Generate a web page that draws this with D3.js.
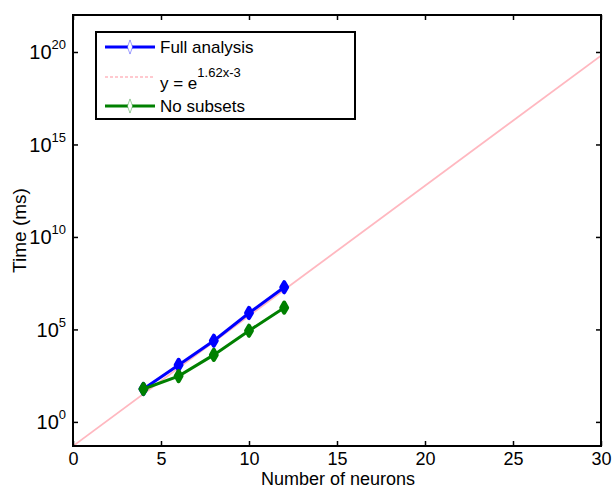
<!DOCTYPE html>
<html>
<head>
<meta charset="utf-8">
<script src="https://cdn.jsdelivr.net/npm/d3@7"></script>
<style>
  body { margin: 0; background: #fff; }
  text { font-family: "Liberation Sans", Arial, sans-serif; fill: #000; }
</style>
</head>
<body>
<svg id="chart"></svg>
<script>
// data
const neurons = [4, 6, 8, 10, 12];
const fullAnalysis = [60, 1200, 24500, 776000, 1.9e7];
const noSubsets = [60, 300, 4200, 85000, 1.5e6];
const fitX = [0, 30];
const xTicks = [0, 5, 10, 15, 20, 25, 30];
const yTickExp = [0, 5, 10, 15, 20];
const legendLabels = ["Full analysis", "y = e", "No subsets"];

const totalWidth = 614;
const totalHeight = 490;
const margin = { top: 15, right: 13, bottom: 44, left: 73 };
const graphWidth = totalWidth - margin.left - margin.right;
const graphHeight = totalHeight - margin.top - margin.bottom;

const fit = (x) => Math.exp(1.62 * x - 3);

const svg = d3.select("#chart").attr("width", totalWidth).attr("height", totalHeight);
const g = svg.append("g").attr("transform", `translate(${margin.left},${margin.top})`);

const xScale = d3.scaleLinear().domain([0, 30]).range([0, graphWidth]);
const yScale = d3.scaleLog().domain([Math.exp(-3), 1e22]).range([graphHeight, 0]);

// clip for the fit line
g.append("defs").append("clipPath").attr("id", "plotClip")
  .append("rect").attr("width", graphWidth).attr("height", graphHeight);

// fitted line
g.append("path")
  .attr("clip-path", "url(#plotClip)")
  .attr("d", d3.line().x((d) => xScale(d)).y((d) => yScale(fit(d)))(fitX))
  .attr("fill", "none")
  .attr("stroke", "#ffb8c0")
  .attr("stroke-width", 1.8);

const diamond = d3.symbol().type(d3.symbolDiamond).size(30);

function drawSeries(values, color) {
  const pts = neurons.map((x, i) => [x, values[i]]);
  g.append("path")
    .attr("d", d3.line().x((d) => xScale(d[0])).y((d) => yScale(d[1]))(pts))
    .attr("fill", "none")
    .attr("stroke", color)
    .attr("stroke-width", 3);
  g.selectAll(null).data(pts).enter().append("path")
    .attr("d", diamond)
    .attr("transform", (d) => `translate(${xScale(d[0])},${yScale(d[1])})`)
    .attr("fill", color)
    .attr("stroke", color)
    .attr("stroke-width", 4)
    .attr("stroke-linejoin", "round");
}
drawSeries(fullAnalysis, "#0000ff");
drawSeries(noSubsets, "#008000");

// axes: ticks inside on all sides
const yTickVals = yTickExp.map((e) => Math.pow(10, e));
const axisStyle = (sel) => {
  sel.select(".domain").remove();
  sel.selectAll(".tick line").attr("stroke", "#000").attr("stroke-width", 1.5);
};

g.append("g").attr("transform", `translate(0,${graphHeight})`)
  .call(d3.axisBottom(xScale).tickValues(xTicks).tickSize(-5).tickPadding(6).tickFormat(d3.format("d")))
  .call(axisStyle)
  .call((s) => s.selectAll("text").attr("font-size", 18).attr("font-family", "Liberation Sans, Arial, sans-serif"));

g.append("g")
  .call(d3.axisTop(xScale).tickValues(xTicks).tickSize(-5).tickFormat(""))
  .call(axisStyle);

const yAxis = g.append("g")
  .call(d3.axisLeft(yScale).tickValues(yTickVals).tickSize(-5).tickFormat(""))
  .call(axisStyle);
yAxis.selectAll(".tick").each(function (d, i) {
  const t = d3.select(this).append("text")
    .attr("x", -7).attr("y", 7)
    .attr("text-anchor", "end")
    .attr("font-size", 20);
  t.append("tspan").text("10");
  t.append("tspan").attr("dy", -10).attr("font-size", 13).text(yTickExp[i]);
});

g.append("g").attr("transform", `translate(${graphWidth},0)`)
  .call(d3.axisRight(yScale).tickValues(yTickVals).tickSize(-5).tickFormat(""))
  .call(axisStyle);

// frame
g.append("rect")
  .attr("width", graphWidth).attr("height", graphHeight)
  .attr("fill", "none").attr("stroke", "#000").attr("stroke-width", 2);

// axis labels
svg.append("text")
  .attr("x", margin.left + graphWidth / 2 + 1).attr("y", 485)
  .attr("text-anchor", "middle").attr("font-size", 18)
  .text("Number of neurons");
svg.append("text")
  .attr("transform", `translate(26,${margin.top + graphHeight / 2}) rotate(-90)`)
  .attr("text-anchor", "middle").attr("font-size", 19)
  .text("Time (ms)");

// legend
const legend = svg.append("g").attr("transform", "translate(96,32)");
legend.append("rect")
  .attr("width", 259).attr("height", 87)
  .attr("fill", "#fff").attr("stroke", "#000").attr("stroke-width", 2);

const legendItems = [
  { color: "#0000ff", width: 3, dash: null, marker: true, y: 15 },
  { color: "#ffb8c0", width: 1.5, dash: "3,2", marker: false, y: 45 },
  { color: "#008000", width: 3, dash: null, marker: true, y: 74 },
];
legendItems.forEach((item, i) => {
  legend.append("line")
    .attr("x1", 9).attr("x2", 59).attr("y1", item.y).attr("y2", item.y)
    .attr("stroke", item.color).attr("stroke-width", item.width)
    .attr("stroke-dasharray", item.dash);
  if (item.marker) {
    legend.append("path")
      .attr("d", d3.symbol().type(d3.symbolDiamond).size(40))
      .attr("transform", `translate(34,${item.y}) scale(0.75,1.2)`)
      .attr("fill", "#fff").attr("stroke", item.color).attr("stroke-opacity", 0.5)
      .attr("stroke-width", 0.8);
  }
  const t = legend.append("text")
    .attr("x", 64).attr("y", i === 1 ? item.y + 12 : item.y + 6)
    .attr("font-size", 17);
  t.append("tspan").text(legendLabels[i]);
  if (i === 1) t.append("tspan").attr("dy", -12).attr("font-size", 13).text("1.62x-3");
});
</script>
</body>
</html>
